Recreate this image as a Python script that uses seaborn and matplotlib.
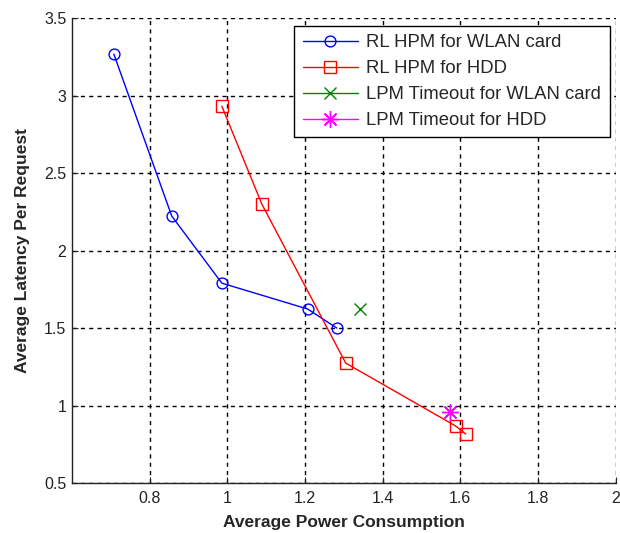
import matplotlib
matplotlib.use("Agg")
import matplotlib.pyplot as plt
import seaborn as sns
import pandas as pd

sns.set_style("white")
plt.rcParams['font.family'] = ['Liberation Sans', 'DejaVu Sans']

wlan_power = [0.708, 0.857, 0.986, 1.207, 1.282]
wlan_latency = [3.268, 2.223, 1.79, 1.623, 1.50]
hdd_power = [0.986, 1.089, 1.305, 1.588, 1.614]
hdd_latency = [2.932, 2.30, 1.274, 0.868, 0.816]
lpm_wlan_power = [1.341]
lpm_wlan_latency = [1.623]
lpm_hdd_power = [1.573]
lpm_hdd_latency = [0.958]

labels = ["RL HPM for WLAN card", "RL HPM for HDD",
          "LPM Timeout for WLAN card", "LPM Timeout for HDD"]

fig = plt.figure(figsize=(6.2, 5.33), dpi=100)
ax = fig.add_axes([0.116, 0.0938, 0.877, 0.872])

df1 = pd.DataFrame({"x": wlan_power, "y": wlan_latency})
df2 = pd.DataFrame({"x": hdd_power, "y": hdd_latency})
df3 = pd.DataFrame({"x": lpm_wlan_power, "y": lpm_wlan_latency})
df4 = pd.DataFrame({"x": lpm_hdd_power, "y": lpm_hdd_latency})

sns.lineplot(data=df1, x="x", y="y", ax=ax, color="#0000ff", lw=1, marker="o",
             markersize=7.8, markerfacecolor="none", markeredgecolor="#0000ff",
             markeredgewidth=1, label=labels[0], sort=False)
sns.lineplot(data=df2, x="x", y="y", ax=ax, color="#ff0000", lw=1, marker="s",
             markersize=9, markerfacecolor="none", markeredgecolor="#ff0000",
             markeredgewidth=1, label=labels[1], sort=False)
sns.lineplot(data=df3, x="x", y="y", ax=ax, color="#008000", lw=1, marker="x",
             markersize=9, markeredgewidth=1, markeredgecolor="#008000",
             label=labels[2], sort=False)
sns.lineplot(data=df4, x="x", y="y", ax=ax, color="#ff00ff", lw=1, marker=(8, 2, 0),
             markersize=12, markeredgewidth=1, markeredgecolor="#ff00ff",
             label=labels[3], sort=False)

ax.set_xlim(0.6, 2.0)
ax.set_ylim(0.5, 3.5)
ax.set_xticks([0.8, 1.0, 1.2, 1.4, 1.6, 1.8, 2.0])
ax.set_xticklabels(["0.8", "1", "1.2", "1.4", "1.6", "1.8", "2"])
ax.set_yticks([0.5, 1, 1.5, 2, 2.5, 3, 3.5])
ax.set_yticklabels(["0.5", "1", "1.5", "2", "2.5", "3", "3.5"])
ax.tick_params(labelsize=11.5, colors="#222222", length=4, direction="in",
               bottom=True, left=True)
ax.tick_params(axis="x", pad=6)
ax.tick_params(axis="y", pad=4)
ax.grid(True, color="black", linestyle=(0, (3, 3)), linewidth=1)
for s in ["top", "right"]:
    ax.spines[s].set_visible(False)
for s in ["left", "bottom"]:
    ax.spines[s].set_color("#222222")
    ax.spines[s].set_linewidth(1)
ax.set_xlabel("Average Power Consumption", fontsize=12.5, fontweight="bold", labelpad=6)
ax.set_ylabel("Average Latency Per Request", fontsize=12.5, fontweight="bold", labelpad=10)

leg = ax.legend(loc="upper right", bbox_to_anchor=(0.989, 0.983), fontsize=13.3,
                frameon=True, fancybox=False, edgecolor="black", framealpha=1,
                handlelength=3, borderpad=0.45, labelspacing=0.48, handletextpad=0.45,
                borderaxespad=0)
leg.get_frame().set_linewidth(1)

fig.savefig("out.png", dpi=100)
